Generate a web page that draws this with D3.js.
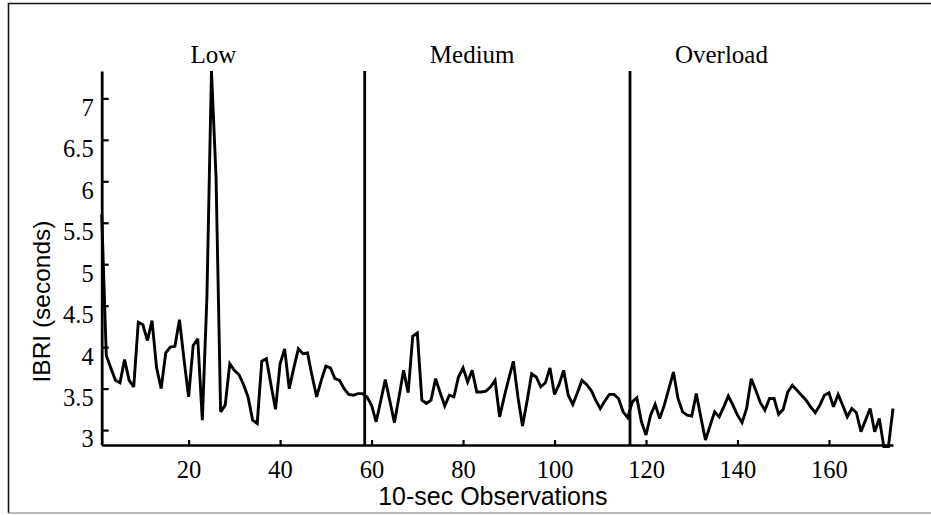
<!DOCTYPE html>
<html>
<head>
<meta charset="utf-8">
<script src="https://cdn.jsdelivr.net/npm/d3@7"></script>
<style>
  body { margin: 0; background: #fff; }
  svg { display: block; }
</style>
</head>
<body>
<div id="chart"></div>
<script>
// IBRI values, one per 10-sec observation (1..174)
var ibri = [
  5.6, 3.9, 3.75, 3.6, 3.57, 3.85, 3.6, 3.52, 4.3, 4.27,
  4.08, 4.32, 3.75, 3.5, 3.93, 4.0, 4.01, 4.33, 3.85, 3.4,
  4.02, 4.1, 3.12, 4.6, 7.33, 6.05, 3.22, 3.3, 3.8, 3.72,
  3.67, 3.55, 3.4, 3.12, 3.08, 3.83, 3.86, 3.55, 3.25, 3.8,
  3.98, 3.5, 3.75, 3.98, 3.92, 3.93, 3.65, 3.4, 3.6, 3.77,
  3.75, 3.62, 3.6, 3.5, 3.43, 3.42, 3.44, 3.44, 3.4, 3.3,
  3.1, 3.35, 3.61, 3.35, 3.09, 3.4, 3.72, 3.45, 4.13, 4.17,
  3.36, 3.32, 3.36, 3.62, 3.45, 3.29, 3.42, 3.4, 3.64, 3.75,
  3.58, 3.72, 3.46, 3.46, 3.47, 3.52, 3.6, 3.16, 3.4, 3.62,
  3.83, 3.4, 3.05, 3.35, 3.68, 3.64, 3.52, 3.57, 3.75, 3.43,
  3.55, 3.72, 3.42, 3.31, 3.45, 3.6, 3.55, 3.48, 3.36, 3.26,
  3.35, 3.43, 3.43, 3.38, 3.22, 3.15, 3.34, 3.39, 3.1, 2.94,
  3.18, 3.31, 3.14, 3.3, 3.5, 3.7, 3.38, 3.22, 3.18, 3.17,
  3.44, 3.15, 2.88, 3.05, 3.22, 3.16, 3.28, 3.41, 3.3, 3.18,
  3.09, 3.26, 3.62, 3.48, 3.33, 3.24, 3.38, 3.38, 3.19, 3.25,
  3.46, 3.54, 3.48, 3.42, 3.36, 3.28, 3.21, 3.3, 3.42, 3.45,
  3.28, 3.43, 3.3, 3.16, 3.26, 3.21, 2.98, 3.12, 3.26, 2.98,
  3.14, 2.8, 2.8, 3.26
];

// workload phases and where they change
var phaseNames = ["Low", "Medium", "Overload"];
var phaseLabelAt = [25.4, 82, 136.5];
var phaseBreaks = [58.5, 116.5];

var xTicks = [20, 40, 60, 80, 100, 120, 140, 160];
var yTicks = [3, 3.5, 4, 4.5, 5, 5.5, 6, 6.5, 7];

var width = 931, height = 515;
var margin = { top: 71, right: 38, bottom: 70, left: 101.7 };

var svg = d3.select("#chart")
  .append("svg")
  .attr("width", width)
  .attr("height", height);

// scanned figure border (no right edge in the scan)
svg.append("path")
  .attr("d", "M931,3.5 H8.5 V513")
  .attr("fill", "none")
  .attr("stroke", "#111")
  .attr("stroke-width", 1.6);
svg.append("line")
  .attr("x1", 8.5).attr("x2", 931)
  .attr("y1", 513).attr("y2", 513)
  .attr("stroke", "#777")
  .attr("stroke-width", 1.2);

var x = d3.scaleLinear()
  .domain([1, 174])
  .range([margin.left, width - margin.right]);

var y = d3.scaleLinear()
  .domain([2.82, 7.33])
  .range([height - margin.bottom, margin.top]);

var serif = "'Liberation Serif', 'Times New Roman', serif";
var sans = "'Liberation Sans', Arial, sans-serif";

// y axis, ticks pointing inward, labels just below each tick
var yAxis = svg.append("g")
  .attr("transform", "translate(" + margin.left + ",0)")
  .call(d3.axisLeft(y).tickValues(yTicks).tickSize(-7).tickSizeOuter(0).tickPadding(8).tickFormat(function(d) { return d; }));
yAxis.select(".domain").attr("stroke-width", 2.8);
yAxis.selectAll(".tick line").attr("stroke-width", 2.2);
yAxis.selectAll("text")
  .attr("dy", "0.69em")
  .style("font-family", serif)
  .style("font-size", "24.5px")
  .attr("fill", "#000");

// x axis
var xAxis = svg.append("g")
  .attr("transform", "translate(0," + (height - margin.bottom) + ")")
  .call(d3.axisBottom(x).tickValues(xTicks).tickSize(-5).tickSizeOuter(0).tickPadding(16));
xAxis.select(".domain").attr("stroke-width", 2.4);
xAxis.selectAll(".tick line").attr("stroke-width", 2.2);
xAxis.selectAll("text")
  .style("font-family", serif)
  .style("font-size", "24.5px")
  .attr("fill", "#000");

// phase boundaries
svg.selectAll("line.phase")
  .data(phaseBreaks)
  .enter()
    .append("line")
    .attr("class", "phase")
    .attr("x1", function(d) { return x(d); })
    .attr("x2", function(d) { return x(d); })
    .attr("y1", margin.top)
    .attr("y2", height - margin.bottom)
    .attr("stroke", "#000")
    .attr("stroke-width", 2.8);

svg.selectAll("text.phase")
  .data(phaseNames)
  .enter()
    .append("text")
    .attr("class", "phase")
    .attr("x", function(d, i) { return x(phaseLabelAt[i]); })
    .attr("y", 62.5)
    .attr("text-anchor", "middle")
    .style("font-family", serif)
    .style("font-size", "25px")
    .text(function(d) { return d; });

// the series
var line = d3.line()
  .x(function(d, i) { return x(i + 1); })
  .y(function(d) { return y(d); });

svg.append("path")
  .datum(ibri)
  .attr("d", line)
  .attr("fill", "none")
  .attr("stroke", "#000")
  .attr("stroke-width", 2.9)
  .attr("stroke-linejoin", "miter")
  .attr("stroke-miterlimit", 3);

// axis titles
svg.append("text")
  .attr("x", 492.8)
  .attr("y", 505)
  .attr("text-anchor", "middle")
  .style("font-family", sans)
  .style("font-size", "25px")
  .text("10-sec Observations");

svg.append("text")
  .attr("transform", "translate(50,301.5) rotate(-90)")
  .attr("text-anchor", "middle")
  .style("font-family", sans)
  .style("font-size", "24.5px")
  .text("IBRI (seconds)");
</script>
</body>
</html>
